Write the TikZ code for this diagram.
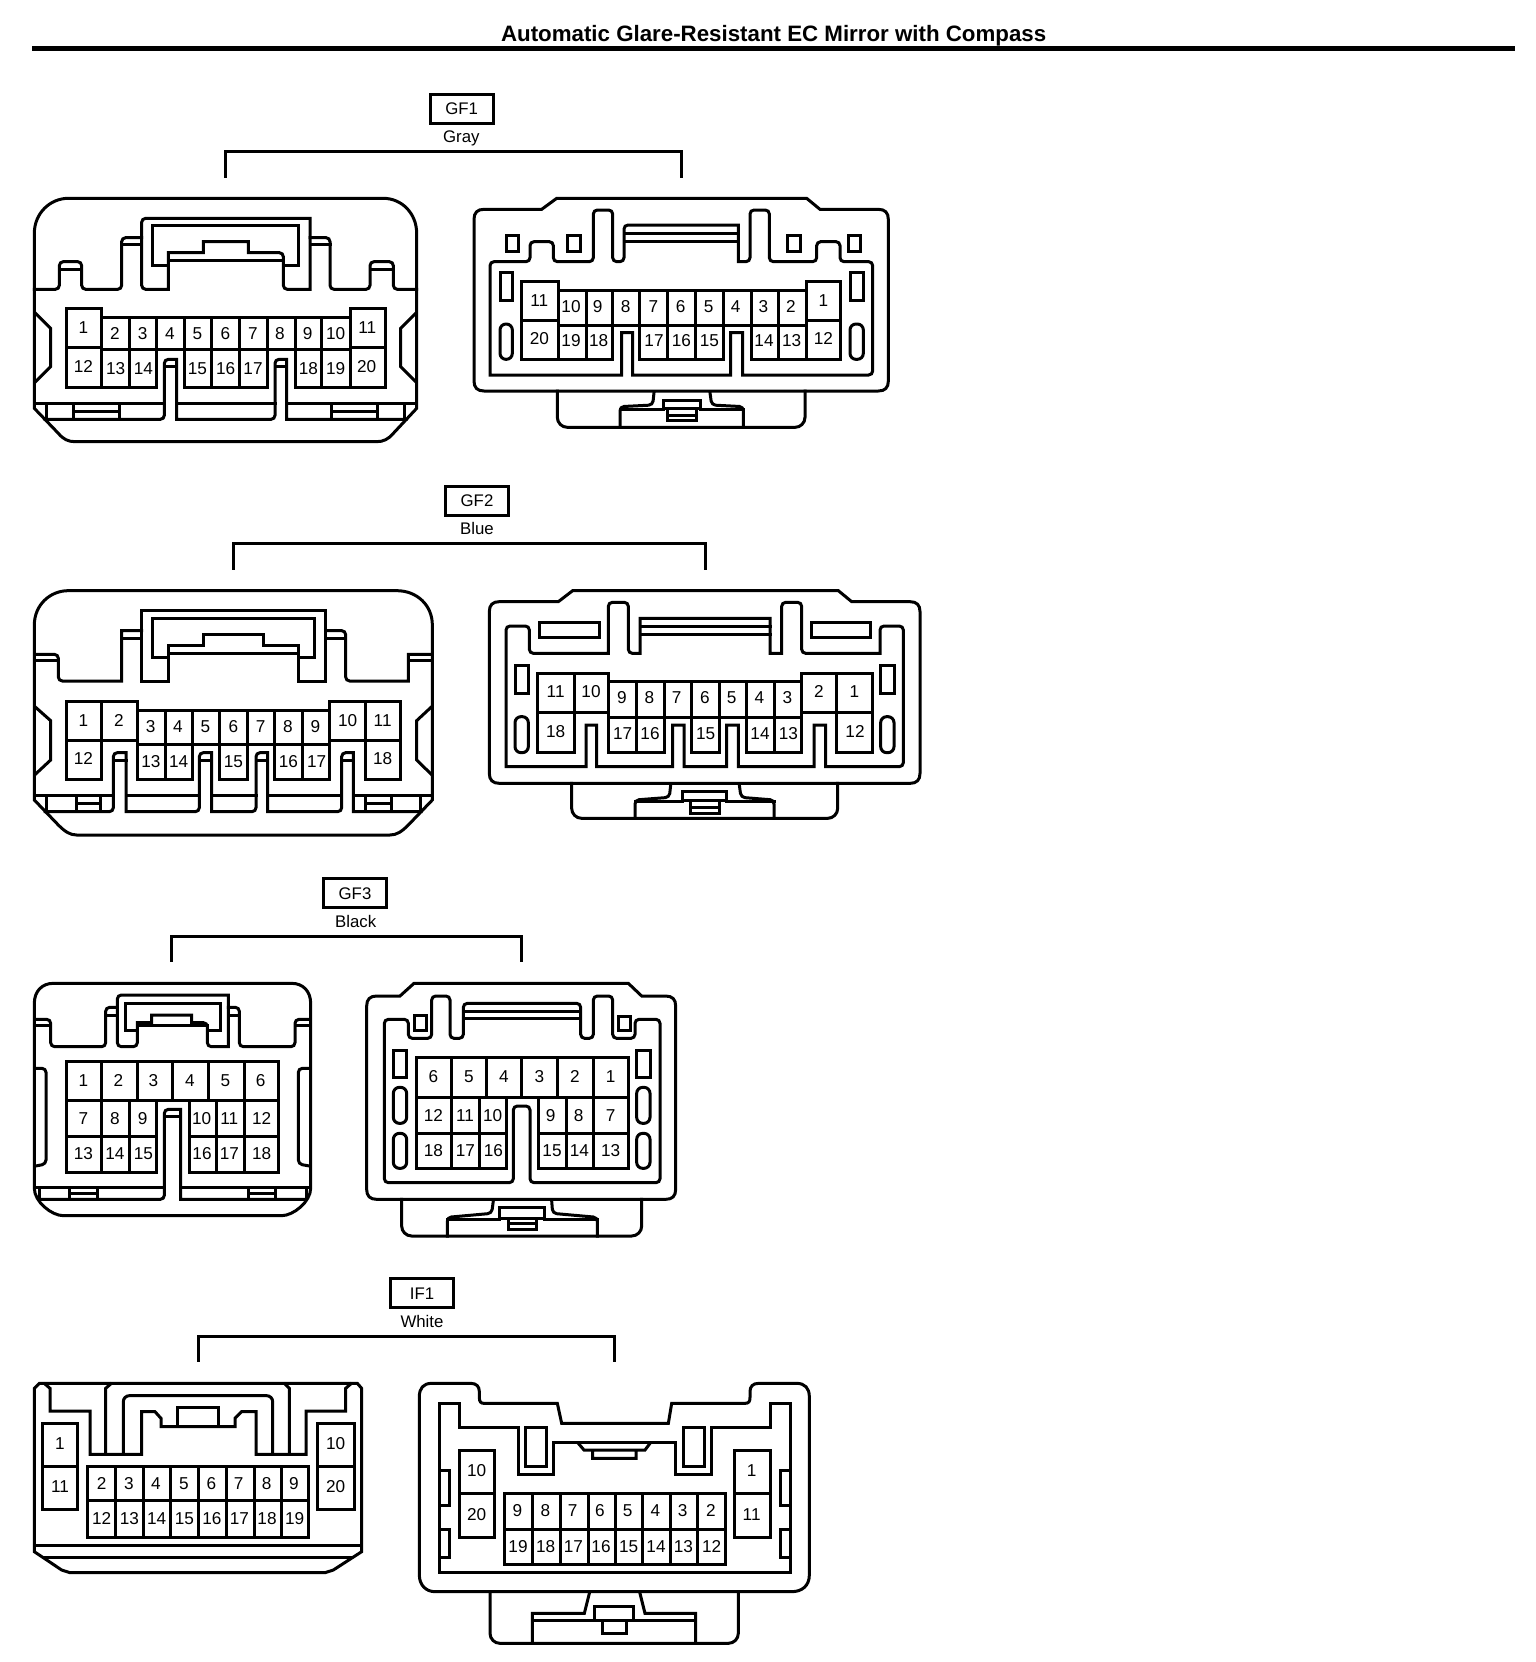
\documentclass[tikz,border=0pt]{standalone}
\usepackage{fontspec}
\setmainfont{Liberation Sans}
\tikzset{
  ln/.style={line width=1.5pt,line join=miter,line cap=rect,black},
  rc/.style={ln,rounded corners=2pt},
  rb/.style={ln,rounded corners=5pt},
  pill/.style={ln,rounded corners=3pt},
  pinlab/.style={inner sep=0pt,font=\fontsize{8.6}{10}\selectfont,text height=6.2pt,text depth=0pt,align=center},
  colorlab/.style={inner sep=0pt,font=\fontsize{8.4}{10}\selectfont,text height=6pt,text depth=0pt},
  tagbox/.style={draw,line width=1.5pt,inner sep=0pt,minimum width=31.5pt,minimum height=14.5pt,font=\fontsize{8.4}{10}\selectfont}
}
\begin{document}
\begin{tikzpicture}[x=0.166667pt,y=-0.166667pt]
\path[use as bounding box] (0,0) rectangle (4608,4986);
% title
\node[inner sep=0pt,text height=7.8pt,text depth=0pt,font=\bfseries\fontsize{11.15}{13}\selectfont] (title) at (2321,100) {Automatic Glare-Resistant EC Mirror with Compass};
\coordinate (barl) at (96,145); \coordinate (barr) at (4545,145);
\draw[line width=2.5pt] (barl) -- (barr);
% tags and brackets
\node[tagbox] (tagGFa) at (1385,326) {GF1};
\node[colorlab] (colGFa) at (1384,410) {Gray};
\coordinate (ba1) at (676,528); \coordinate (ba2) at (676,455); \coordinate (ba3) at (2044,455); \coordinate (ba4) at (2044,528);
\draw[ln] (ba1) -- (ba2) -- (ba3) -- (ba4);
\node[tagbox] (tagGFb) at (1431,1502) {GF2};
\node[colorlab] (colGFb) at (1431,1586) {Blue};
\coordinate (bb1) at (700,1705); \coordinate (bb2) at (700,1630); \coordinate (bb3) at (2115,1630); \coordinate (bb4) at (2115,1705);
\draw[ln] (bb1) -- (bb2) -- (bb3) -- (bb4);
\node[tagbox] (tagGFc) at (1065,2680) {GF3};
\node[colorlab] (colGFc) at (1067,2763) {Black};
\coordinate (bc1) at (515,2880); \coordinate (bc2) at (515,2808); \coordinate (bc3) at (1565,2808); \coordinate (bc4) at (1565,2880);
\draw[ln] (bc1) -- (bc2) -- (bc3) -- (bc4);
\node[tagbox] (tagIF) at (1266,3880) {IF1};
\node[colorlab] (colIF) at (1266,3963) {White};
\coordinate (bd1) at (594,4080); \coordinate (bd2) at (594,4008); \coordinate (bd3) at (1842,4008); \coordinate (bd4) at (1842,4080);
\draw[ln] (bd1) -- (bd2) -- (bd3) -- (bd4);

%%%%%%%% A: GF1 left
\begin{scope}[shift={(0,210)}]
\draw[ln] (103,490) .. controls (103,430) and (150,385) .. (205,385) -- (1150,385) .. controls (1205,385) and (1250,430) .. (1250,490) -- (1250,1015) -- (1180,1090) .. controls (1165,1108) and (1150,1115) .. (1130,1115) -- (225,1115) .. controls (205,1115) and (190,1108) .. (175,1090) -- (103,1015) -- cycle;
\draw[rc] (103,658) -- (178,658) -- (178,575) -- (245,575) -- (245,658) -- (365,658) -- (365,503) -- (425,503);
\draw[ln] (178,597) -- (245,597) (365,523) -- (425,523);
\draw[ln] (505,658) [rounded corners=2pt] -- (425,658) -- (425,445) [sharp corners] -- (930,445) -- (930,658) [rounded corners=2pt] -- (850,658) -- (850,548) [sharp corners] -- (745,548) -- (745,515) -- (610,515) -- (610,548) -- (505,548) -- cycle;
\draw[ln] (505,585) -- (458,585) -- (458,467) -- (895,467) -- (895,585) -- (850,585) (505,572) -- (850,572);
\draw[rc] (930,503) -- (990,503) -- (990,658) -- (1110,658) -- (1110,575) -- (1180,575) -- (1180,658) -- (1250,658);
\draw[ln] (935,523) -- (990,523) (1110,597) -- (1180,597);
\draw[ln] (107,730) -- (152,775) -- (152,890) -- (107,935) (1247,730) -- (1202,775) -- (1202,890) -- (1247,935);
% pins
\draw[ln] (198,838) -- (198,715) -- (305,715) -- (305,742) -- (1050,742) -- (1050,715) -- (1157,715) -- (1157,838);
\draw[ln] (198,833) -- (305,833) (1050,833) -- (1157,833) (305,838) -- (1050,838);
\foreach \x in {305,388,470,553,635,718,803,885,965,1050} \draw[ln] (\x,742) -- (\x,838);
\draw[ln] (198,833) -- (198,952) -- (470,952) -- (470,838) (553,838) -- (553,952) -- (803,952) -- (803,838) (885,838) -- (885,952) -- (1157,952) -- (1157,833);
\foreach \x in {305,388,635,718,965,1050} \draw[ln] (\x,838) -- (\x,952);
% keys and rail
\draw[ln] (103,1000) -- (493,1000) (530,1000) -- (825,1000) (860,1000) -- (1250,1000);
\draw[ln] (135,1048) [rounded corners=2pt] -- (493,1048) -- (493,868) [sharp corners] -- (530,868) -- (530,1048) [rounded corners=2pt] -- (825,1048) -- (825,868) [sharp corners] -- (860,868) -- (860,1048) [rounded corners=2pt] -- (1218,1048);
\draw[ln] (493,890) -- (530,890) (825,890) -- (860,890);
\foreach \x in {140,220,358,995,1132,1212} \draw[ln] (\x,1000) -- (\x,1048);
\draw[ln] (220,1025) -- (358,1025) (995,1025) -- (1132,1025);
\foreach \t/\x/\y in {1/250/772,2/345/790,3/428/790,4/510/790,5/592/790,6/676/790,7/759/790,8/840/790,9/923/790,10/1007/790,11/1102/772,12/250/890,13/347/895,14/430/895,15/592/895,16/677/895,17/759/895,18/925/895,19/1007/895,20/1100/888}
  \node[pinlab] (a\t) at (\x,\y) {\t};
\end{scope}

%%%%%%%% B: GF1 right
\begin{scope}[shift={(1350,210)}]
\draw[ln] (275,418) -- (320,385) -- (1070,385) -- (1110,418) -- (1285,418) .. controls (1305,418) and (1315,428) .. (1315,448) -- (1315,933) .. controls (1315,953) and (1305,963) .. (1285,963) -- (102,963) .. controls (82,963) and (72,953) .. (72,933) -- (72,448) .. controls (72,428) and (82,418) .. (102,418) -- cycle;
\draw[rb] (322,963) -- (322,1072) -- (1065,1072) -- (1065,963);
\draw[rc] (510,1072) -- (510,1010) -- (608,1005) -- (612,968) (880,1072) -- (880,1010) -- (785,1005) -- (780,968);
\draw[ln] (640,1015) -- (640,990) -- (750,990) -- (750,1015) -- cycle (652,1015) -- (652,1050) -- (738,1050) -- (738,1015) (652,1035) -- (738,1035) (510,1018) -- (640,1018) (750,1018) -- (880,1018);
\draw[ln] (120,915) [rounded corners=2pt] -- (120,575) -- (240,575) -- (240,515) -- (310,515) -- (310,575) -- (430,575) -- (430,420) -- (488,420) -- (488,575) -- (522,575) -- (522,465) [sharp corners] -- (865,465) -- (865,575) [rounded corners=2pt] -- (900,575) -- (900,420) -- (958,420) -- (958,575) -- (1100,575) -- (1100,515) -- (1170,515) -- (1170,575) -- (1268,575) -- (1268,915) [sharp corners] -- (878,915) -- (878,788) -- (842,788) -- (842,915) -- (548,915) -- (548,788) -- (515,788) -- (515,915) -- cycle;
\draw[ln] (522,490) -- (865,490) (522,513) -- (865,513);
\foreach \x/\w in {168/205,352/390,1012/1050,1195/1232} \draw[ln] (\x,495) rectangle (\w,545);
\draw[ln] (150,608) rectangle (187,692) (1200,608) rectangle (1240,692);
\draw[pill] (150,762) rectangle (187,868) (1200,762) rectangle (1240,868);
\draw[ln] (215,750) -- (215,635) -- (325,635) -- (325,660) -- (1068,660) -- (1068,635) -- (1172,635) -- (1172,750);
\draw[ln] (215,750) -- (325,750) (1068,750) -- (1172,750) (325,765) -- (1068,765);
\foreach \x in {325,408,488,568,652,735,820,903,985,1068} \draw[ln] (\x,660) -- (\x,765);
\draw[ln] (215,750) -- (215,868) -- (488,868) -- (488,765) (568,765) -- (568,868) -- (820,868) -- (820,765) (903,765) -- (903,868) -- (1172,868) -- (1172,750);
\foreach \x in {325,408,652,735,985,1068} \draw[ln] (\x,765) -- (\x,868);
\foreach \t/\x/\y in {11/268/690,10/363/708,9/443/708,8/527/708,7/610/708,6/692/708,5/776/708,4/857/708,3/940/708,2/1023/708,1/1120/690,20/268/805,19/363/812,18/446/812,17/612/812,16/694/812,15/778/812,14/942/812,13/1025/812,12/1120/805}
  \node[pinlab] (b\t) at (\x,\y) {\t};
\end{scope}

%%%%%%%% C: GF2 left
\begin{scope}[shift={(0,1410)}]
\draw[ln] (103,465) .. controls (103,405) and (150,362) .. (205,362) -- (1190,362) .. controls (1250,362) and (1297,405) .. (1297,465) -- (1297,990) -- (1225,1065) .. controls (1205,1085) and (1190,1095) .. (1170,1095) -- (230,1095) .. controls (210,1095) and (195,1085) .. (175,1065) -- (103,990) -- cycle;
\draw[ln] (107,553) [rounded corners=2pt] -- (175,553) -- (175,633) [sharp corners] -- (365,633) -- (365,482) [rounded corners=2pt] -- (425,482);
\draw[ln] (107,572) -- (172,572) (368,505) -- (425,505);
\draw[ln] (505,633) -- (425,633) -- (425,422) -- (977,422) -- (977,633) -- (895,633) -- (895,525) -- (790,525) -- (790,492) -- (610,492) -- (610,525) -- (505,525) -- cycle;
\draw[ln] (505,563) -- (458,563) -- (458,445) -- (942,445) -- (942,563) -- (895,563) (505,550) -- (895,550);
\draw[ln] (977,482) [rounded corners=2pt] -- (1037,482) -- (1037,633) [sharp corners] -- (1225,633) -- (1225,553) [rounded corners=2pt] -- (1293,553);
\draw[ln] (980,505) -- (1037,505) (1228,572) -- (1293,572);
\draw[ln] (107,712) -- (152,752) -- (152,870) -- (107,912) (1293,712) -- (1250,752) -- (1250,870) -- (1293,912);
% pins
\draw[ln] (198,810) -- (198,695) -- (412,695) -- (412,720) -- (988,720) -- (988,695) -- (1202,695) -- (1202,810);
\draw[ln] (198,810) -- (412,810) (988,810) -- (1202,810) (412,822) -- (988,822);
\foreach \x in {495,577,658,742,822,907} \draw[ln] (\x,720) -- (\x,822);
\draw[ln] (305,695) -- (305,810) (1097,695) -- (1097,810) (412,720) -- (412,822) (988,720) -- (988,822);
\draw[ln] (198,810) -- (198,928) -- (305,928) -- (305,810) (412,822) -- (412,928) -- (577,928) -- (577,822) (495,822) -- (495,928) (658,822) -- (658,928) -- (742,928) -- (742,822) (822,822) -- (822,928) -- (988,928) -- (988,822) (907,822) -- (907,928) (1097,810) -- (1097,928) -- (1202,928) -- (1202,810);
% keys
\draw[ln] (103,975) -- (340,975) (378,975) -- (598,975) (635,975) -- (768,975) (803,975) -- (1025,975) (1060,975) -- (1297,975);
\draw[ln] (135,1025) [rounded corners=2pt] -- (340,1025) -- (340,848) [sharp corners] -- (378,848) -- (378,1025) [rounded corners=2pt] -- (598,1025) -- (598,848) [sharp corners] -- (635,848) -- (635,1025) [rounded corners=2pt] -- (768,1025) -- (768,848) [sharp corners] -- (803,848) -- (803,1025) [rounded corners=2pt] -- (1025,1025) -- (1025,848) [sharp corners] -- (1060,848) -- (1060,1025) [rounded corners=2pt] -- (1263,1025);
\draw[ln] (340,870) -- (378,870) (598,870) -- (635,870) (768,870) -- (803,870) (1025,870) -- (1060,870);
\foreach \x in {140,228,302,1097,1175,1260} \draw[ln] (\x,975) -- (\x,1025);
\draw[ln] (228,1000) -- (302,1000) (1097,1000) -- (1175,1000);
\foreach \t/\x/\y in {1/250/750,2/357/750,3/452/768,4/534/768,5/616/768,6/700/768,7/782/768,8/864/768,9/946/768,10/1043/750,11/1148/750,12/250/866,13/453/873,14/536/873,15/700/873,16/865/873,17/950/873,18/1148/866}
  \node[pinlab] (c\t) at (\x,\y) {\t};
\end{scope}

%%%%%%%% D: GF2 right
\begin{scope}[shift={(1380,1410)}]
\draw[ln] (295,395) -- (338,362) -- (1135,362) -- (1175,395) -- (1350,395) .. controls (1370,395) and (1380,405) .. (1380,425) -- (1380,910) .. controls (1380,930) and (1370,940) .. (1350,940) -- (118,940) .. controls (98,940) and (88,930) .. (88,910) -- (88,425) .. controls (88,405) and (98,395) .. (118,395) -- cycle;
\draw[rb] (335,940) -- (335,1045) -- (1133,1045) -- (1133,940);
\draw[rc] (525,1045) -- (525,990) -- (628,982) -- (632,945) (942,1045) -- (942,990) -- (843,982) -- (838,945);
\draw[ln] (668,990) -- (668,965) -- (800,965) -- (800,990) -- cycle (692,990) -- (692,1030) -- (778,1030) -- (778,990) (692,1012) -- (778,1012) (525,995) -- (668,995) (800,995) -- (942,995);
\draw[ln] (138,890) [rounded corners=2pt] -- (138,468) -- (208,468) -- (208,550) [sharp corners] -- (445,550) [rounded corners=2pt] -- (445,397) -- (505,397) -- (505,550) [sharp corners] -- (540,550) -- (540,445) -- (930,445) -- (930,550) -- (965,550) [rounded corners=2pt] -- (965,397) -- (1025,397) -- (1025,550) [sharp corners] -- (1260,550) [rounded corners=2pt] -- (1260,468) -- (1330,468) -- (1330,890) [sharp corners] -- (1097,890) -- (1097,765) -- (1062,765) -- (1062,890) -- (835,890) -- (835,765) -- (800,765) -- (800,890) -- (672,890) -- (672,765) -- (638,765) -- (638,890) -- (410,890) -- (410,765) -- (378,765) -- (378,890) -- cycle;
\draw[ln] (540,468) -- (930,468) (540,492) -- (930,492);
\draw[ln] (238,457) rectangle (417,503) (1053,457) rectangle (1232,503);
\draw[ln] (165,585) rectangle (205,670) (1262,585) rectangle (1302,670);
\draw[pill] (165,740) rectangle (205,848) (1262,740) rectangle (1302,848);
% pins
\draw[ln] (232,728) -- (232,610) -- (445,610) -- (445,635) -- (1025,635) -- (1025,610) -- (1238,610) -- (1238,728);
\draw[ln] (232,728) -- (445,728) (1025,728) -- (1238,728) (445,742) -- (1025,742);
\foreach \x in {528,612,695,778,860,942} \draw[ln] (\x,635) -- (\x,742);
\draw[ln] (343,610) -- (343,728) (1130,610) -- (1130,728) (445,635) -- (445,742) (1025,635) -- (1025,742);
\draw[ln] (232,728) -- (232,848) -- (343,848) -- (343,728) (445,742) -- (445,848) -- (612,848) -- (612,742) (528,742) -- (528,848) (695,742) -- (695,848) -- (778,848) -- (778,742) (860,742) -- (860,848) -- (1025,848) -- (1025,742) (942,742) -- (942,848) (1130,728) -- (1130,848) -- (1238,848) -- (1238,728);
\foreach \t/\x/\y in {11/287/665,10/393/665,9/486/683,8/568/683,7/650/683,6/735/683,5/815/683,4/898/683,3/982/683,2/1077/665,1/1183/665,18/287/785,17/488/790,16/570/790,15/737/790,14/900/790,13/985/790,12/1185/785}
  \node[pinlab] (d\t) at (\x,\y) {\t};
\end{scope}

%%%%%%%% E: GF3 left
\begin{scope}[shift={(0,2580)}]
\draw[ln] (103,430) .. controls (103,395) and (125,370) .. (160,370) -- (875,370) .. controls (910,370) and (932,395) .. (932,430) -- (932,985) .. controls (932,1025) and (880,1067) .. (845,1067) -- (190,1067) .. controls (155,1067) and (103,1025) .. (103,985) -- cycle;
\draw[rc] (107,478) -- (152,478) -- (152,560) -- (317,560) -- (317,442) -- (352,442);
\draw[ln] (107,497) -- (150,497) (320,465) -- (352,465);
\draw[ln] (382,560) [rounded corners=2pt] -- (352,560) -- (352,405) [sharp corners] -- (685,405) -- (685,560) [rounded corners=2pt] -- (622,560) -- (622,488) [sharp corners] -- (575,488) -- (575,465) -- (455,465) -- (455,488) -- (412,488) [rounded corners=2pt] -- (412,560) -- cycle;
\draw[ln] (412,512) -- (376,512) -- (376,430) -- (660,430) -- (660,512) -- (622,512) (412,497) -- (622,497);
\draw[rc] (685,442) -- (718,442) -- (718,560) -- (885,560) -- (885,478) -- (928,478);
\draw[ln] (690,465) -- (718,465) (888,497) -- (928,497);
\draw[rc] (107,625) -- (138,625) -- (138,912) -- (107,918) (928,625) -- (895,625) -- (895,912) -- (928,918);
% pins
\draw[ln] (198,603) rectangle (835,722);
\foreach \x in {305,412,518,625,733} \draw[ln] (\x,603) -- (\x,722);
\draw[ln] (198,722) -- (198,938) -- (470,938) -- (470,722) (568,722) -- (568,938) -- (835,938) -- (835,722) (198,830) -- (470,830) (568,830) -- (835,830);
\foreach \x in {305,388,648,733} \draw[ln] (\x,722) -- (\x,938);
% keys
\draw[ln] (103,982) -- (493,982) (542,982) -- (932,982);
\draw[ln] (118,1018) [rounded corners=2pt] -- (493,1018) -- (493,748) [sharp corners] -- (542,748) -- (542,1018) [rounded corners=2pt] -- (918,1018);
\draw[ln] (493,770) -- (542,770);
\foreach \x in {118,208,292,745,825,918} \draw[ln] (\x,982) -- (\x,1018);
\draw[ln] (208,1000) -- (292,1000) (745,1000) -- (825,1000);
\foreach \t/\x/\y in {1/250/660,2/355/660,3/460/660,4/570/660,5/676/660,6/782/660,7/250/775,8/345/775,9/428/775,10/605/775,11/688/775,12/785/775,13/250/880,14/345/880,15/430/880,16/606/880,17/688/880,18/785/880}
  \node[pinlab] (e\t) at (\x,\y) {\t};
\end{scope}

%%%%%%%% F: GF3 right
\begin{scope}[shift={(1020,2580)}]
\draw[ln] (180,408) -- (222,370) -- (865,370) -- (905,408) -- (977,408) .. controls (997,408) and (1007,418) .. (1007,438) -- (1007,988) .. controls (1007,1008) and (997,1018) .. (977,1018) -- (110,1018) .. controls (90,1018) and (80,1008) .. (80,988) -- (80,438) .. controls (80,418) and (90,408) .. (110,408) -- cycle;
\draw[rb] (185,1018) -- (185,1128) -- (905,1128) -- (905,1018);
\draw[rc] (322,1128) -- (322,1072) -- (455,1060) -- (460,1022) (772,1128) -- (772,1072) -- (638,1060) -- (635,1022);
\draw[ln] (478,1075) -- (478,1042) -- (612,1042) -- (612,1075) -- cycle (505,1075) -- (505,1108) -- (588,1108) -- (588,1075) (505,1090) -- (588,1090) (322,1078) -- (478,1078) (612,1078) -- (772,1078);
\draw[rc] (133,968) -- (133,478) -- (205,478) -- (205,535) -- (275,535) -- (275,408) -- (330,408) -- (330,535) -- (370,535) -- (370,430) -- (722,430) -- (722,535) -- (760,535) -- (760,408) -- (818,408) -- (818,535) -- (885,535) -- (885,478) -- (960,478) -- (960,968) -- (570,968) -- (570,738) -- (520,738) -- (520,968) -- cycle;
\draw[ln] (370,455) -- (722,455) (370,475) -- (722,475);
\draw[ln] (222,465) rectangle (260,510) (835,468) rectangle (870,510);
\draw[ln] (160,570) rectangle (200,652) (890,570) rectangle (930,652);
\draw[pill] (160,682) rectangle (200,790) (160,820) rectangle (200,925) (890,682) rectangle (930,790) (890,820) rectangle (930,925);
% pins
\draw[ln] (228,592) rectangle (865,712);
\foreach \x in {335,440,545,652,760} \draw[ln] (\x,592) -- (\x,712);
\draw[ln] (228,712) -- (228,925) -- (498,925) -- (498,712) (595,712) -- (595,925) -- (865,925) -- (865,712) (228,820) -- (498,820) (595,820) -- (865,820);
\foreach \x in {335,418,678,760} \draw[ln] (\x,712) -- (\x,925);
\foreach \t/\x/\y in {6/280/650,5/387/650,4/492/650,3/598/650,2/705/650,1/812/650,12/280/765,11/375/765,10/458/765,9/632/765,8/716/765,7/812/765,18/280/870,17/376/870,16/460/870,15/636/870,14/718/870,13/812/870}
  \node[pinlab] (f\t) at (\x,\y) {\t};
\end{scope}

%%%%%%%% G: IF1 left
\begin{scope}[shift={(0,3780)}]
\draw[ln] (118,370) -- (1072,370) -- (1085,385) -- (1085,875) -- (1000,930) -- (975,938) -- (210,938) -- (185,930) -- (103,875) -- (103,385) -- cycle;
\draw[ln] (103,857) -- (1085,857) (133,892) -- (1055,892);
\draw[ln] (135,372) -- (150,385) -- (150,453) -- (270,453) -- (270,583) -- (425,583) -- (425,455) -- (465,455) -- (483,475) -- (483,500) -- (705,500) -- (705,475) -- (725,455) -- (768,455) -- (768,583) -- (918,583) -- (918,453) -- (1037,453) -- (1037,385) -- (1052,372);
\draw[ln] (317,583) -- (317,385) -- (332,372) (868,583) -- (868,385) -- (855,372);
\draw[ln,rounded corners=3pt] (370,583) -- (370,407) -- (818,407) -- (818,583);
\draw[ln] (533,500) -- (533,442) -- (655,442) -- (655,500);
\draw[ln] (127,490) rectangle (233,747) (127,618) -- (233,618) (952,490) rectangle (1062,747) (952,618) -- (1062,618);
\draw[ln] (263,620) rectangle (925,832) (263,722) -- (925,722);
\foreach \x in {347,430,512,595,678,762,843} \draw[ln] (\x,620) -- (\x,832);
\foreach \t/\x/\y in {1/180/550,11/180/680,2/305/670,3/387/670,4/468/670,5/552/670,6/634/670,7/716/670,8/800/670,9/882/670,12/305/775,13/388/775,14/470/775,15/553/775,16/636/775,17/718/775,18/801/775,19/884/775,10/1007/550,20/1007/680}
  \node[pinlab] (g\t) at (\x,\y) {\t};
\end{scope}

%%%%%%%% H: IF1 right
\begin{scope}[shift={(1200,3780)}]
\draw[ln] (95,370) -- (212,370) .. controls (230,370) and (238,380) .. (238,395) -- (238,412) .. controls (238,425) and (242,430) .. (252,430) -- (472,430) -- (485,490) -- (805,490) -- (815,430) -- (1035,430) .. controls (1046,430) and (1050,425) .. (1050,412) -- (1050,395) .. controls (1050,380) and (1058,370) .. (1076,370) -- (1190,370) .. controls (1215,370) and (1228,385) .. (1228,410) -- (1228,945) .. controls (1228,978) and (1205,995) .. (1175,995) -- (105,995) .. controls (78,995) and (58,975) .. (58,945) -- (58,410) .. controls (58,385) and (70,370) .. (95,370) -- cycle;
\draw[rb] (270,995) -- (270,1150) -- (1015,1150) -- (1015,995);
\draw[ln] (397,1150) -- (397,1060) -- (553,1060) -- (568,1000) (887,1150) -- (887,1060) -- (735,1060) -- (720,1000);
\draw[ln] (583,1082) -- (583,1040) -- (700,1040) -- (700,1082) -- cycle (607,1082) -- (607,1120) -- (680,1120) -- (680,1082) (397,1082) -- (583,1082) (700,1082) -- (887,1082);
\draw[ln] (118,938) -- (118,430) -- (178,430) -- (178,502) -- (355,502) -- (355,642) -- (460,642) -- (460,548) -- (825,548) -- (825,642) -- (935,642) -- (935,502) -- (1112,502) -- (1112,430) -- (1170,430) -- (1170,938) -- cycle;
\draw[ln] (535,550) -- (552,570) -- (735,570) -- (750,550) (578,572) -- (578,595) -- (708,595) -- (708,572);
\draw[ln] (377,502) rectangle (438,618) (850,502) rectangle (912,618);
\draw[ln] (120,632) -- (147,632) -- (147,735) -- (120,735) (120,808) -- (147,808) -- (147,892) -- (120,892) (1168,632) -- (1140,632) -- (1140,735) -- (1168,735) (1168,808) -- (1140,808) -- (1140,892) -- (1168,892);
\draw[ln] (178,572) rectangle (283,832) (178,700) -- (283,700) (1003,572) rectangle (1110,832) (1003,700) -- (1110,700);
\draw[ln] (313,700) rectangle (975,913) (313,807) -- (975,807);
\foreach \x in {397,480,565,645,728,810,893} \draw[ln] (\x,700) -- (\x,913);
\foreach \t/\x/\y in {10/230/632,20/230/763,1/1055/632,11/1055/763,9/352/752,8/436/752,7/518/752,6/600/752,5/683/752,4/766/752,3/848/752,2/933/752,19/354/858,18/437/858,17/520/858,16/603/858,15/686/858,14/768/858,13/850/858,12/935/858}
  \node[pinlab] (h\t) at (\x,\y) {\t};
\end{scope}
\end{tikzpicture}
\end{document}
